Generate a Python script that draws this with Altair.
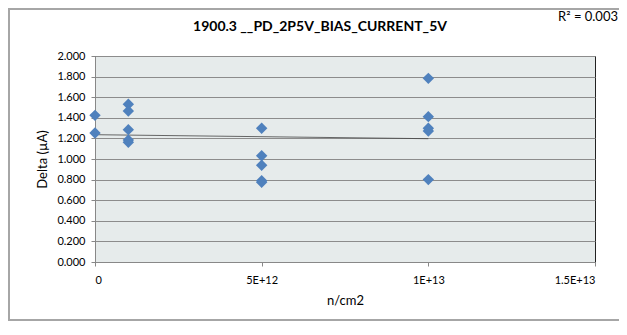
import altair as alt
import pandas as pd

# Data
fluence = [0, 0,
           1e12, 1e12, 1e12, 1e12, 1e12,
           5e12, 5e12, 5e12, 5e12, 5e12,
           1e13, 1e13, 1e13, 1e13, 1e13]
delta = [1.424, 1.252,
         1.531, 1.466, 1.285, 1.184, 1.162,
         1.298, 1.032, 0.939, 0.790, 0.774,
         1.783, 1.411, 1.298, 1.272, 0.800]
x_ticks = [0, 5e12, 1e13, 1.5e13]
y_ticks = [0, 0.2, 0.4, 0.6, 0.8, 1.0, 1.2, 1.4, 1.6, 1.8, 2.0]
title_text = "1900.3 __PD_2P5V_BIAS_CURRENT_5V"
r2_text = "R² = 0.003"

df = pd.DataFrame({"n": fluence, "d": delta})

FONT = "Lato"

xscale = alt.Scale(domain=[0, 1.5e13], nice=False, zero=True)
yscale = alt.Scale(domain=[0, 2], nice=False)

x_enc = alt.X("n:Q", scale=xscale,
              axis=alt.Axis(values=x_ticks, title="n/cm2", grid=False,
                            labelExpr="datum.value == 0 ? '0' : replace(replace(format(datum.value, '.1e'), '.0e', 'e'), 'e', 'E')",
                            tickSize=4, labelPadding=8, titlePadding=9,
                            labelOverlap=False,
                            domainColor="#888888", tickColor="#888888",
                            labelFont=FONT, titleFont=FONT, labelFontSize=11,
                            titleFontSize=13, titleFontWeight="normal",
                            labelColor="#000000", titleColor="#000000"))
y_enc = alt.Y("d:Q", scale=yscale,
              axis=alt.Axis(values=y_ticks, format=".3f", title="Delta (µA)",
                            gridColor="#8c8c8c", gridWidth=1,
                            tickSize=4, labelPadding=6, titlePadding=7,
                            labelOverlap=False,
                            domainColor="#888888", tickColor="#888888",
                            labelFont=FONT, titleFont=FONT, labelFontSize=11,
                            titleFontSize=13, titleFontWeight="normal",
                            labelColor="#000000", titleColor="#000000"))

base = alt.Chart(df)

# outer frame
frame = base.mark_rect(fill=None, stroke="#a6a6a6", strokeWidth=2, clip=False).encode(
    x=alt.value(-86), x2=alt.value(560), y=alt.value(-47), y2=alt.value(264)
)

points = base.mark_point(shape="diamond", filled=True, size=130, color="#4F81BD",
                         opacity=1).encode(x=x_enc, y=y_enc)

trend = base.transform_regression("n", "d", method="linear", extent=[0, 1e13]).mark_line(
    color="#444444", strokeWidth=0.8
).encode(x=x_enc, y=y_enc)

r2 = alt.Chart(pd.DataFrame({"t": [r2_text]})).mark_text(
    align="right", baseline="middle", font=FONT, fontSize=13, color="#000000", clip=False
).encode(text="t:N", x=alt.value(523), y=alt.value(-39))

title = alt.Chart(pd.DataFrame({"t": [title_text]})).mark_text(
    align="center", baseline="middle", font=FONT, fontSize=14, fontWeight="bold",
    color="#000000", clip=False
).encode(text="t:N", x=alt.value(225), y=alt.value(-29))

chart = alt.layer(frame, trend, points, r2, title).properties(
    width=500, height=206,
    autosize=alt.AutoSizeParams(type="none"),
    padding={"left": 87, "top": 48, "right": 24, "bottom": 65},
).configure_view(
    fill="#E6EBEB", stroke="#222222", strokeWidth=1
)

chart.save("out.html", embed_options={"renderer": "svg", "actions": False})
